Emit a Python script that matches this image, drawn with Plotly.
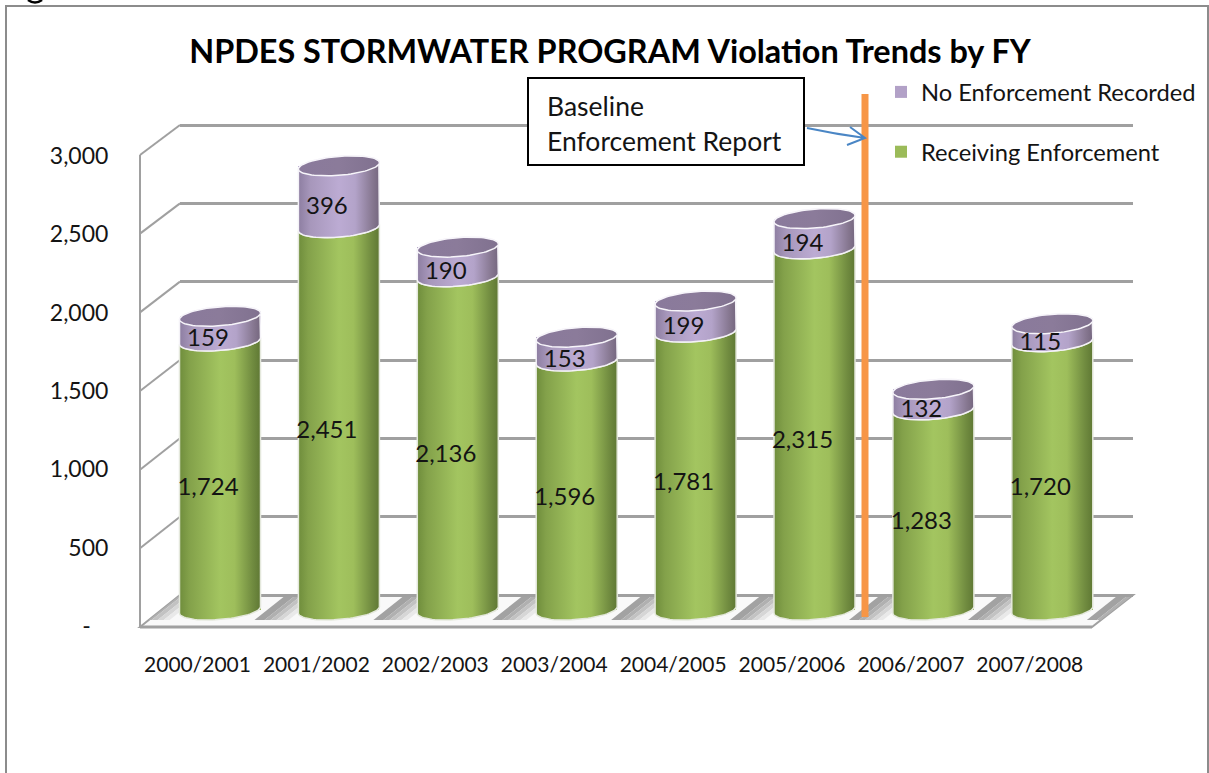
import numpy as np
import plotly.graph_objects as go

# ---- data ----
categories = ["2000/2001", "2001/2002", "2002/2003", "2003/2004",
              "2004/2005", "2005/2006", "2006/2007", "2007/2008"]
receiving = [1724, 2451, 2136, 1596, 1781, 2315, 1283, 1720]
no_enforcement = [159, 396, 190, 153, 199, 194, 132, 115]
y_ticks = [0, 500, 1000, 1500, 2000, 2500, 3000]
y_tick_labels = ["-\u00a0\u00a0\u00a0", "500", "1,000", "1,500", "2,000", "2,500", "3,000"]

W, H = 1209, 773
FONT = "Lato"
TEXT = "#141414"
GRID = "#a0a0a0"


def pxx(v):
    return v / W


def pxy(v):
    return 1 - v / H


# full-page scale for the cylinders: category i -> pixel 220 + 118.9 i, value -> pixel 610 - 0.156 v
X0, DX = 220.0, 118.9
Y0, DY = 610.0, 0.156
bar_x_range = [-X0 / DX, (W - X0) / DX]
bar_y_range = [(Y0 - H) / DY, Y0 / DY]
half_w = 40.5 / DX
rad_y = 9.5 / DY
tilt = 3.2 / DY
ux = np.arange(len(categories))

t_low = np.linspace(np.pi, 2 * np.pi, 40)  # left to right along the lower arc
t_up = np.linspace(0, np.pi, 40)           # right to left along the upper arc


def arc(i, v, t):
    c = np.cos(t)
    return i + half_w * c, v + rad_y * np.sin(t) + tilt * c


def u_x(px):
    return (px - X0) / DX


def u_y(py):
    return (Y0 - py) / DY


GREEN = [[0, "#6f8d3c"], [0.12, "#83a14a"], [0.5, "#a3c560"], [0.68, "#9ebe5b"], [0.9, "#718c40"], [1, "#5f7834"]]
PURPLE = [[0, "#8d7ea1"], [0.15, "#a797bb"], [0.5, "#bcabd3"], [0.7, "#b3a3c9"], [0.92, "#85768f"], [1, "#75677f"]]
CAP = [[0, "#8a7a9c"], [0.5, "#8b7b9a"], [1, "#80718f"]]

# wall / floor geometry in page pixels
FL, FR, BL, BR = 140, 1092, 180, 1133
FF, BF = 627, 595
BACK_TOP = 125
FRONT_TOP = 155
back_scale = (BF - BACK_TOP) / 3000
grid_pad = 60

fig = go.Figure()

# back wall gridlines (first subplot, lowest layer)
fig.add_trace(go.Scatter(x=[0], y=[0], xaxis="x", yaxis="y", mode="markers",
                         marker=dict(opacity=0), showlegend=False, hoverinfo="skip"))

# floor shadows: slanted soft bands to the right of every cylinder
bands = [(-6, 4, "#a2a2a2"), (4, 10, "#b0b0b0"), (10, 16, "#c2c2c2"), (16, 22, "#d6d6d6"), (22, 28, "#e9e9e9")]
sb, st = 620, 597
shear = 29
for i in range(-1, len(categories)):
    right = X0 + DX * i + 40.5
    for a, b, col in bands:
        lo_l = max(right + a, FL + (FF - sb) * 40 / 32)
        lo_r = min(right + b, FR + (FF - sb) * 41 / 32)
        hi_l = max(right + a + shear, FL + (FF - st) * 40 / 32)
        hi_r = min(right + b + shear, FR + (FF - st) * 41 / 32)
        if lo_r <= lo_l and hi_r <= hi_l:
            continue
        lo_r = max(lo_r, lo_l)
        hi_r = max(hi_r, hi_l)
        xs = [u_x(v) for v in (lo_l, lo_r, hi_r, hi_l, lo_l)]
        ys = [u_y(v) for v in (sb, sb, st, st, sb)]
        fig.add_trace(go.Scatter(x=xs, y=ys, xaxis="x2", yaxis="y2", mode="lines", line=dict(width=0),
                                 fill="toself", fillcolor=col, showlegend=False, hoverinfo="skip"))

# stacked bars
fig.add_trace(go.Bar(x=ux, y=receiving, xaxis="x2", yaxis="y2", name="Receiving Enforcement",
                     legendgroup="a", legendrank=2, width=2 * half_w,
                     marker=dict(color="#9bbb59", line=dict(width=0)), hoverinfo="skip"))
fig.add_trace(go.Bar(x=ux, y=no_enforcement, xaxis="x2", yaxis="y2", name="No Enforcement Recorded",
                     legendgroup="b", legendrank=1, width=2 * half_w,
                     marker=dict(color="#b2a1c7", line=dict(width=0)), hoverinfo="skip"))

# cylinder bodies and caps derived from the values
for i, (r, n) in enumerate(zip(receiving, no_enforcement)):
    xa, ya = arc(i, 0, t_low)
    xb, yb = arc(i, r, t_low[::-1])
    fig.add_trace(go.Scatter(
        x=np.r_[xa, xb, xa[:1]], y=np.r_[ya, yb, ya[:1]], xaxis="x2", yaxis="y2", mode="lines",
        line=dict(color="#e4e8dc", width=1.5), fill="toself", showlegend=False, hoverinfo="skip",
        fillgradient=dict(type="horizontal", colorscale=GREEN)))
    xa, ya = arc(i, r, t_low)
    xb, yb = arc(i, r + n, t_up)
    fig.add_trace(go.Scatter(
        x=np.r_[xa, xb, xa[:1]], y=np.r_[ya, yb, ya[:1]], xaxis="x2", yaxis="y2", mode="lines",
        line=dict(color="#f4f2f7", width=1.5), fill="toself", showlegend=False, hoverinfo="skip",
        fillgradient=dict(type="horizontal", colorscale=PURPLE)))
    tt = np.linspace(0, 2 * np.pi, 80)
    xc, yc = arc(i, r + n, tt)
    fig.add_trace(go.Scatter(
        x=xc, y=yc, xaxis="x2", yaxis="y2", mode="lines",
        line=dict(color="#f7f5fa", width=1.5), fill="toself", showlegend=False, hoverinfo="skip",
        fillgradient=dict(type="horizontal", colorscale=CAP)))

# data labels
lab_dx = -12 / DX
fig.add_trace(go.Scatter(
    x=ux + lab_dx, y=np.array(receiving) / 2 - 13 / DY, xaxis="x2", yaxis="y2", mode="text",
    text=[f"{v:,}" for v in receiving], textfont=dict(family=FONT, size=24, color=TEXT),
    textposition="middle center", showlegend=False, hoverinfo="skip"))
fig.add_trace(go.Scatter(
    x=ux + lab_dx, y=np.array(receiving) + np.array(no_enforcement) / 2 - 11.5 / DY, xaxis="x2", yaxis="y2",
    mode="text", text=[f"{v:,}" for v in no_enforcement], textfont=dict(family=FONT, size=24, color=TEXT),
    textposition="middle center", showlegend=False, hoverinfo="skip"))

# front axis labels subplot
fig.add_trace(go.Scatter(x=[0], y=[0], xaxis="x3", yaxis="y3", mode="markers",
                         marker=dict(opacity=0), showlegend=False, hoverinfo="skip"))

shapes = [
    dict(type="path", layer="below", xref="paper", yref="paper",
         path=f"M{pxx(FL)},{pxy(FF)} L{pxx(BL)},{pxy(BF)} L{pxx(BR)},{pxy(BF)} L{pxx(FR)},{pxy(FF)} Z",
         fillcolor="#f9f9f9", line=dict(color=GRID, width=2)),
    dict(type="line", layer="below", xref="paper", yref="paper", x0=pxx(FL), x1=pxx(FL),
         y0=pxy(FRONT_TOP), y1=pxy(FF), line=dict(color=GRID, width=2)),
    dict(type="line", xref="paper", yref="paper", x0=pxx(FL), x1=pxx(FR),
         y0=pxy(FF), y1=pxy(FF), line=dict(color=GRID, width=3)),
    # outer frame
    dict(type="path", xref="paper", yref="paper",
         path=f"M{pxx(6)},{pxy(773)} L{pxx(6)},{pxy(6)} L{pxx(1208)},{pxy(6)} L{pxx(1208)},{pxy(773)}",
         line=dict(color="#8c8c8c", width=2)),
    # callout box
    dict(type="rect", xref="paper", yref="paper", x0=pxx(528), x1=pxx(804), y0=pxy(78), y1=pxy(165),
         line=dict(color="#000000", width=2), fillcolor="#ffffff"),
    # baseline marker
    dict(type="line", xref="paper", yref="paper", x0=pxx(865), x1=pxx(865), y0=pxy(94), y1=pxy(617),
         line=dict(color="#f79646", width=7)),
    # arrow
    dict(type="path", xref="paper", yref="paper",
         path=(f"M{pxx(807)},{pxy(128)} Q{pxx(835)},{pxy(134)} {pxx(865)},{pxy(138)} "
               f"M{pxx(850)},{pxy(127)} L{pxx(865)},{pxy(138)} L{pxx(847)},{pxy(145)}"),
         line=dict(color="#4a86c5", width=2)),
    # descender of the page heading that the crop cuts off
    dict(type="path", xref="paper", yref="paper",
         path=f"M{pxx(28)},{pxy(0)} Q{pxx(35)},{pxy(5)} {pxx(42)},{pxy(0)}",
         line=dict(color="#000000", width=2.5)),
]
for v in y_ticks[1:]:
    yb = BF - back_scale * v
    yf = FF - (FF - FRONT_TOP) * v / 3000
    shapes.append(dict(type="line", layer="below", xref="paper", yref="paper", x0=pxx(FL), x1=pxx(BL),
                       y0=pxy(yf), y1=pxy(yb), line=dict(color=GRID, width=2)))

annotations = [
    dict(text="Baseline", xref="paper", yref="paper", x=pxx(545), y=pxy(106), xanchor="left", yanchor="middle",
         showarrow=False, font=dict(family=FONT, size=26.5, color=TEXT)),
    dict(text="Enforcement Report", xref="paper", yref="paper", x=pxx(545), y=pxy(141), xanchor="left",
         yanchor="middle", showarrow=False, font=dict(family=FONT, size=26.5, color=TEXT)),
]

fig.update_layout(
    width=W, height=H, margin=dict(l=0, r=0, t=0, b=0), autosize=False,
    paper_bgcolor="#ffffff", plot_bgcolor="rgba(0,0,0,0)",
    barmode="stack", shapes=shapes, annotations=annotations,
    title=dict(text="<b>NPDES STORMWATER PROGRAM Violation Trends by FY</b>",
               x=610 / W, xanchor="center", y=pxy(52), yanchor="middle",
               font=dict(family=FONT, size=32.4, color="#000000")),
    legend=dict(x=pxx(881), y=pxy(70), xanchor="left", yanchor="top", bgcolor="rgba(0,0,0,0)",
                traceorder="grouped", tracegroupgap=26,
                font=dict(family=FONT, size=23.7, color=TEXT), itemclick=False, itemdoubleclick=False),
    # back wall
    xaxis=dict(domain=[pxx(BL), pxx(BR)], range=[0, 1], visible=False, fixedrange=True, automargin=False),
    yaxis=dict(domain=[pxy(BF + grid_pad * back_scale), pxy(BACK_TOP - grid_pad * back_scale)],
               range=[-grid_pad, 3000 + grid_pad], tickvals=y_ticks, showticklabels=False, automargin=False,
               showgrid=True, gridcolor=GRID, gridwidth=2.5, zeroline=False, ticks="", fixedrange=True),
    # cylinders: whole page
    xaxis2=dict(domain=[0, 1], range=bar_x_range, visible=False, anchor="y2", fixedrange=True, automargin=False),
    yaxis2=dict(domain=[0, 1], range=bar_y_range, visible=False, anchor="x2", fixedrange=True, automargin=False),
    # front labels
    xaxis3=dict(domain=[0, 1], range=bar_x_range, anchor="y3", tickmode="array", automargin=False,
                tickvals=list(ux - 22.5 / DX), ticktext=categories, ticks="outside", ticklen=20,
                tickcolor="rgba(0,0,0,0)", showgrid=False, zeroline=False, showline=False, fixedrange=True,
                tickfont=dict(family=FONT, size=21, color=TEXT)),
    yaxis3=dict(domain=[pxy(626), pxy(FRONT_TOP + 1)], range=[0, 3000], anchor="free", position=pxx(140),
                tickmode="array", tickvals=y_ticks, ticktext=y_tick_labels, ticks="outside", ticklen=27,
                automargin=False, tickcolor="rgba(0,0,0,0)", showgrid=False, zeroline=False, showline=False,
                fixedrange=True, tickfont=dict(family=FONT, size=23, color=TEXT)),
)

fig.write_html("out.html", config={"displayModeBar": False},
               post_script="document.body.style.margin='0';")
